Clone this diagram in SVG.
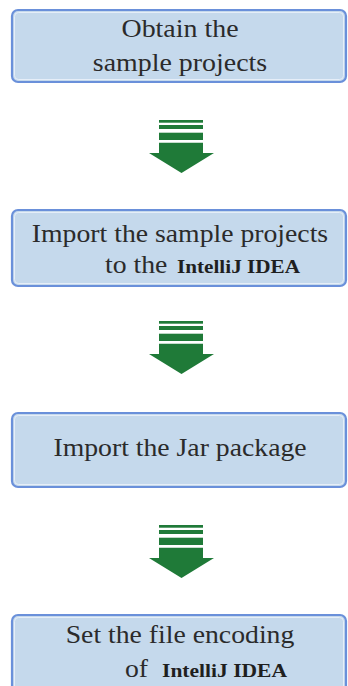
<svg xmlns="http://www.w3.org/2000/svg" width="348" height="686" viewBox="0 0 348 686">
<style>
.box{fill:#c5d9ec;stroke:#6a90da;stroke-width:2.2}
.inner{fill:none;stroke:#e6eef8;stroke-width:1}
.t{font-family:'Liberation Serif',serif;font-size:19px;fill:#2b2b2b}
.mid{text-anchor:middle}
.idea{font-family:'Liberation Serif',serif;font-size:19px;font-weight:bold;fill:#1f1f1f}
.ar{fill:#1f7a38}
</style>
<defs>
<g id="arrow">
<rect class="ar" x="159" y="120" width="44" height="2.7"/>
<rect class="ar" x="159" y="125" width="44" height="4"/>
<rect class="ar" x="159" y="132.7" width="44" height="7.3"/>
<polygon class="ar" points="159,142.7 203,142.7 203,153 214,153 181.5,173 149,153 159,153"/>
</g>
</defs>
<g id="node1">
<rect class="box" x="12" y="10" width="334" height="72" rx="6"/>
<rect class="inner" x="14.5" y="12.5" width="329" height="67" rx="4"/>
<text class="t mid" transform="translate(180,37) scale(1.47,1.37)">Obtain the</text>
<text class="t mid" transform="translate(180,70.5) scale(1.47,1.37)">sample projects</text>
</g>
<g id="node2">
<rect class="box" x="12" y="210" width="334" height="76" rx="6"/>
<rect class="inner" x="14.5" y="212.5" width="329" height="71" rx="4"/>
<text class="t mid" transform="translate(180,241.5) scale(1.46,1.37)">Import the sample projects</text>
<text class="t" transform="translate(105,273) scale(1.46,1.37)">to the</text>
<text class="idea" x="177" y="273" textLength="123" lengthAdjust="spacingAndGlyphs">IntelliJ IDEA</text>
</g>
<g id="node3">
<rect class="box" x="12" y="413" width="334" height="74" rx="6"/>
<rect class="inner" x="14.5" y="415.5" width="329" height="69" rx="4"/>
<text class="t mid" transform="translate(180,456) scale(1.46,1.37)">Import the Jar package</text>
</g>
<g id="node4">
<rect class="box" x="12" y="615" width="334" height="80" rx="6"/>
<rect class="inner" x="14.5" y="617.5" width="329" height="75" rx="4"/>
<text class="t mid" transform="translate(180,643) scale(1.46,1.37)">Set the file encoding</text>
<text class="t" transform="translate(125,677) scale(1.46,1.37)">of</text>
<text class="idea" x="162" y="677" textLength="125" lengthAdjust="spacingAndGlyphs">IntelliJ IDEA</text>
</g>
<g id="connectors">
<use href="#arrow"/>
<use href="#arrow" transform="translate(0,201)"/>
<use href="#arrow" transform="translate(0,405)"/>
</g>
</svg>
